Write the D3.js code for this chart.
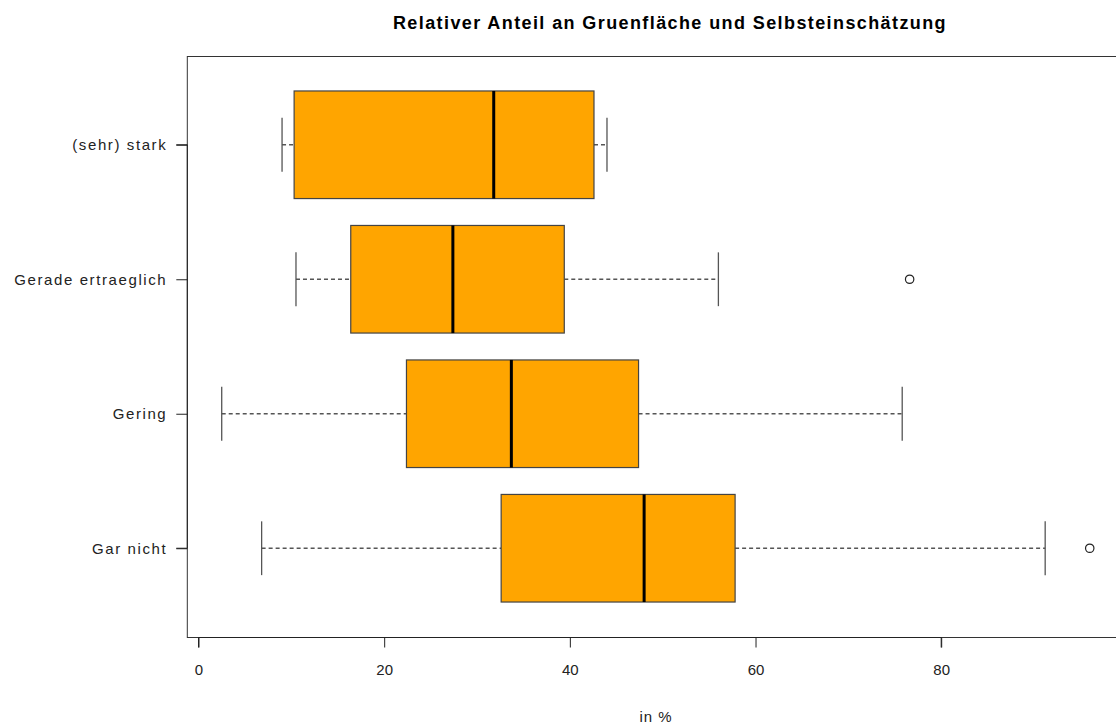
<!DOCTYPE html>
<html>
<head>
<meta charset="utf-8">
<script src="https://cdn.jsdelivr.net/npm/d3@7"></script>
<style>
html, body { margin: 0; padding: 0; background: #fff; }
svg { display: block; font-family: "Liberation Sans", Arial, Helvetica, sans-serif; }
</style>
</head>
<body>
<svg id="chart" width="1116" height="725"></svg>
<script>
// ---- data ----
const categories  = ["Gar nicht", "Gering", "Gerade ertraeglich", "(sehr) stark"];
const whiskerLow  = [6.8, 2.5, 10.5, 9.0];
const q1          = [32.6, 22.4, 16.4, 10.3];
const medians     = [48.0, 33.7, 27.4, 31.8];
const q3          = [57.8, 47.4, 39.4, 42.6];
const whiskerHigh = [91.2, 75.8, 56.0, 44.0];
const outliers    = [[96.0], [], [76.6], []];
const xTicks      = [0, 20, 40, 60, 80];
const title  = "Relativer Anteil an Gruenfläche und Selbsteinschätzung";
const xLabel = "in %";

// ---- layout ----
const svg = d3.select("#chart");
const x = d3.scaleLinear().domain([0, 80]).range([198.5, 941.2]);
const y = d3.scaleLinear().domain([0.34, 4.66]).range([637, 56]);
const xMin = -1.26, xMax = 99.74;
const halfW = 0.4;

const rows = categories.map((c, i) => ({
  cat: c, pos: i + 1,
  lo: whiskerLow[i], q1: q1[i], med: medians[i], q3: q3[i], hi: whiskerHigh[i],
  out: outliers[i]
}));

// frame
svg.append("rect")
  .attr("x", x(xMin) + 0.5).attr("y", y(4.66) + 0.5)
  .attr("width", x(xMax) - x(xMin)).attr("height", y(0.34) - y(4.66))
  .attr("fill", "none").attr("stroke", "#333").attr("stroke-width", 1);

const g = svg.append("g");

// whiskers (dashed)
g.selectAll(".wl").data(rows).join("line")
  .attr("x1", d => x(d.lo)).attr("x2", d => x(d.q1))
  .attr("y1", d => y(d.pos)).attr("y2", d => y(d.pos))
  .attr("stroke", "#555").attr("stroke-width", 1.5).attr("stroke-dasharray", "4,3");
g.selectAll(".wh").data(rows).join("line")
  .attr("x1", d => x(d.q3)).attr("x2", d => x(d.hi))
  .attr("y1", d => y(d.pos)).attr("y2", d => y(d.pos))
  .attr("stroke", "#555").attr("stroke-width", 1.5).attr("stroke-dasharray", "4,3");

// staples
["lo", "hi"].forEach(k => {
  g.selectAll(".st" + k).data(rows).join("line")
    .attr("x1", d => x(d[k])).attr("x2", d => x(d[k]))
    .attr("y1", d => y(d.pos + halfW / 2)).attr("y2", d => y(d.pos - halfW / 2))
    .attr("stroke", "#555").attr("stroke-width", 1.3);
});

// boxes
g.selectAll(".box").data(rows).join("rect")
  .attr("x", d => x(d.q1)).attr("width", d => x(d.q3) - x(d.q1))
  .attr("y", d => y(d.pos + halfW)).attr("height", d => y(d.pos - halfW) - y(d.pos + halfW))
  .attr("fill", "#FFA500").attr("stroke", "#444").attr("stroke-width", 1.2);

// medians
g.selectAll(".med").data(rows).join("line")
  .attr("x1", d => x(d.med)).attr("x2", d => x(d.med))
  .attr("y1", d => y(d.pos + halfW)).attr("y2", d => y(d.pos - halfW))
  .attr("stroke", "#000").attr("stroke-width", 3);

// outliers
const outPts = rows.flatMap(d => d.out.map(v => ({ v, pos: d.pos })));
g.selectAll(".out").data(outPts).join("circle")
  .attr("cx", d => x(d.v)).attr("cy", d => y(d.pos)).attr("r", 4.2)
  .attr("fill", "none").attr("stroke", "#222").attr("stroke-width", 1.2);

// x axis
const xAxis = svg.append("g").attr("transform", `translate(0,${y(0.34) + 0.5})`)
  .call(d3.axisBottom(x).tickValues(xTicks).tickSize(10).tickPadding(17).tickFormat(d3.format("d")));
xAxis.select(".domain").attr("stroke", "#222").attr("d", `M${x(0)},10V0H${x(80)}V10`);
xAxis.selectAll(".tick line").attr("stroke", "#222");
xAxis.selectAll("text").attr("font-size", 15).attr("fill", "#222")
  .attr("font-family", '"Liberation Sans", Arial, sans-serif');

// y axis
const yAxis = svg.append("g").attr("transform", `translate(${x(xMin) + 0.5},0)`)
  .call(d3.axisLeft(y).tickValues([1, 2, 3, 4]).tickSize(11).tickPadding(9)
    .tickFormat(d => categories[d - 1]));
yAxis.select(".domain").attr("stroke", "#222").attr("d", `M-11,${y(1)}H0V${y(4)}H-11`);
yAxis.selectAll(".tick line").attr("stroke", "#222");
yAxis.selectAll("text").attr("font-size", 15).attr("fill", "#222")
  .attr("letter-spacing", "1.6px")
  .attr("font-family", '"Liberation Sans", Arial, sans-serif');

// title
svg.append("text").attr("x", 670).attr("y", 29).attr("text-anchor", "middle")
  .attr("font-size", 18).attr("font-weight", "bold").attr("fill", "#000")
  .attr("letter-spacing", "1.4px")
  .text(title);

// x label
svg.append("text").attr("x", 656).attr("y", 722).attr("text-anchor", "middle")
  .attr("font-size", 15).attr("fill", "#222").attr("letter-spacing", "1px")
  .text(xLabel);
</script>
</body>
</html>
